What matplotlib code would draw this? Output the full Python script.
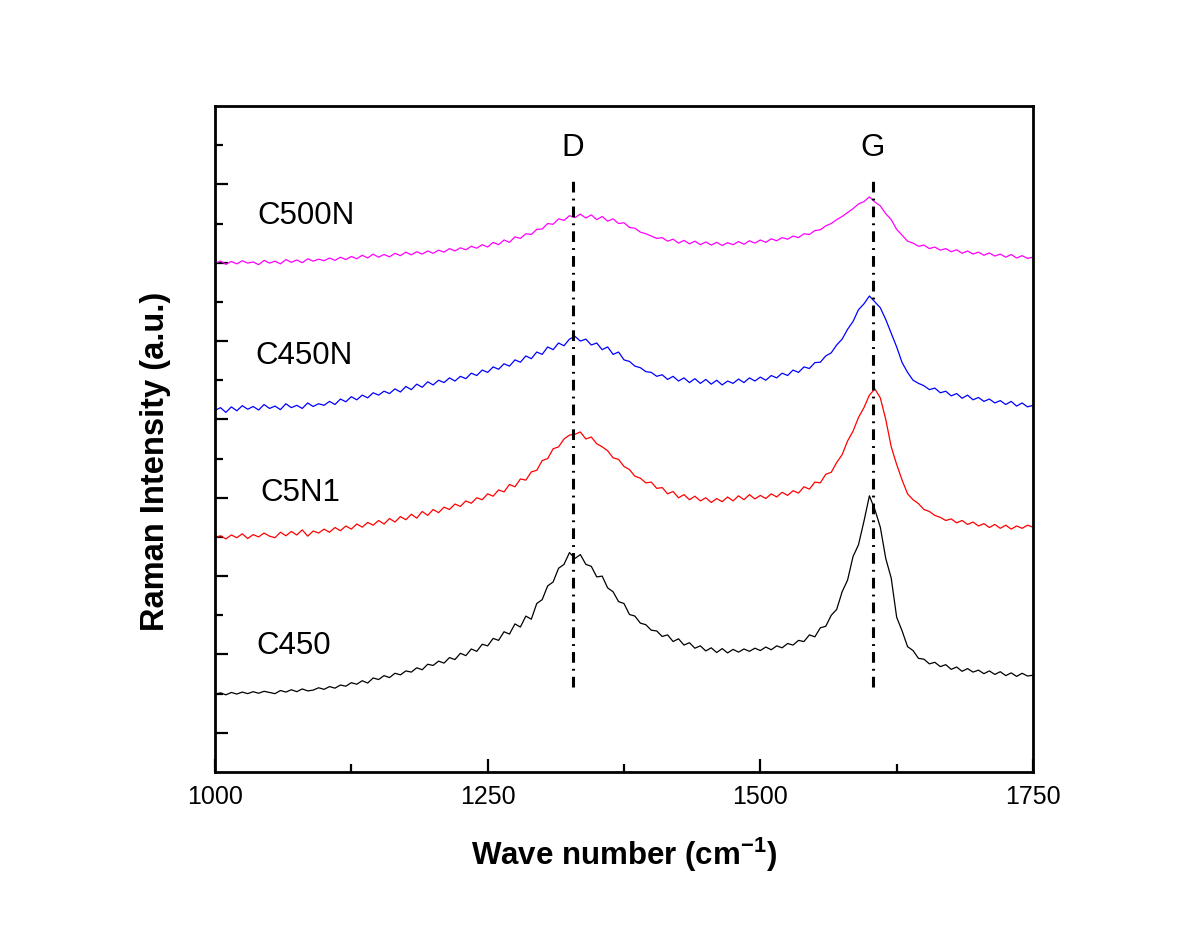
import matplotlib
matplotlib.use("Agg")
import matplotlib.pyplot as plt
import numpy as np

plt.rcParams['font.family'] = ['Liberation Sans', 'DejaVu Sans']

# ---------------- data ----------------
wavenumber = list(range(1000, 1751, 5))

c450 = [1.98,2.02,1.97,2.03,1.99,2.04,2.00,2.05,2.01,2.06,2.03,2.00,2.08,2.04,2.10,2.05,2.12,2.07,2.09,2.15,
        2.11,2.18,2.14,2.22,2.19,2.28,2.24,2.33,2.27,2.40,2.36,2.46,2.41,2.52,2.48,2.58,2.55,2.66,2.61,2.75,
        2.72,2.83,2.78,2.92,2.87,3.03,2.97,3.14,3.08,3.26,3.22,3.41,3.36,3.58,3.52,3.78,3.70,3.98,3.90,4.30,
        4.40,4.75,4.85,5.20,5.30,5.60,5.45,5.55,5.30,5.25,4.98,5.00,4.70,4.60,4.35,4.30,4.02,3.98,3.80,3.76,
        3.62,3.60,3.46,3.50,3.33,3.40,3.24,3.30,3.16,3.22,3.09,3.17,3.05,3.15,3.04,3.13,3.06,3.14,3.08,3.16,
        3.10,3.19,3.12,3.22,3.17,3.28,3.24,3.36,3.33,3.50,3.45,3.68,3.72,4.00,4.15,4.60,4.90,5.50,5.80,6.40,
        7.05,6.70,6.25,5.45,4.95,3.95,3.60,3.20,3.10,2.90,2.88,2.76,2.80,2.69,2.74,2.62,2.68,2.57,2.64,2.55,
        2.60,2.51,2.58,2.49,2.56,2.46,2.53,2.44,2.52,2.45,2.47]

c5n1 = [5.97,6.03,5.95,6.05,5.98,6.08,5.96,6.06,6.00,6.10,6.02,5.98,6.12,6.03,6.14,6.05,6.18,6.02,6.15,6.10,
        6.20,6.12,6.24,6.16,6.28,6.20,6.33,6.25,6.37,6.30,6.42,6.33,6.47,6.38,6.52,6.44,6.58,6.48,6.65,6.55,
        6.70,6.62,6.76,6.70,6.84,6.78,6.92,6.86,7.00,6.95,7.10,7.04,7.20,7.15,7.34,7.28,7.48,7.45,7.66,7.70,
        7.95,8.00,8.25,8.30,8.50,8.60,8.62,8.68,8.50,8.55,8.38,8.30,8.20,8.02,7.98,7.80,7.72,7.55,7.50,7.38,
        7.40,7.24,7.26,7.10,7.16,7.00,7.08,6.95,7.04,6.92,7.00,6.88,6.98,6.90,7.02,6.92,7.05,6.95,7.08,6.97,
        7.06,6.98,7.10,7.02,7.14,7.06,7.18,7.12,7.28,7.22,7.40,7.38,7.60,7.65,7.90,8.10,8.45,8.70,9.05,9.30,
        9.62,9.78,9.55,9.00,8.30,7.85,7.45,7.10,6.95,6.85,6.70,6.65,6.55,6.50,6.42,6.46,6.36,6.42,6.32,6.38,
        6.28,6.34,6.24,6.32,6.22,6.30,6.20,6.28,6.22,6.30,6.25]

c450n = [9.23,9.30,9.18,9.32,9.22,9.35,9.26,9.33,9.24,9.38,9.28,9.34,9.25,9.40,9.30,9.36,9.28,9.42,9.33,9.40,
         9.36,9.46,9.38,9.52,9.45,9.58,9.50,9.62,9.55,9.68,9.62,9.72,9.66,9.78,9.70,9.84,9.76,9.90,9.82,9.96,
         9.88,10.00,9.94,10.06,9.98,10.10,10.04,10.18,10.12,10.26,10.20,10.34,10.28,10.42,10.36,10.52,10.46,10.62,10.55,10.72,
         10.66,10.85,10.78,10.95,10.88,11.05,11.12,11.00,11.05,10.90,10.95,10.78,10.85,10.66,10.72,10.52,10.48,10.36,10.32,10.22,
         10.20,10.10,10.14,10.02,10.10,9.98,10.06,9.94,10.04,9.92,10.02,9.90,10.00,9.88,9.98,9.92,10.03,9.94,10.06,9.98,
         10.08,10.00,10.12,10.06,10.18,10.12,10.26,10.20,10.34,10.30,10.45,10.46,10.62,10.70,10.90,11.05,11.30,11.50,11.80,11.95,
         12.15,12.00,11.85,11.55,11.20,10.85,10.45,10.20,10.00,9.92,9.86,9.76,9.80,9.68,9.72,9.60,9.66,9.54,9.62,9.50,
         9.56,9.46,9.52,9.42,9.48,9.38,9.46,9.34,9.42,9.32,9.36]

c500n = [12.98,13.04,12.96,13.03,12.97,13.05,12.99,13.02,12.95,13.06,12.99,13.04,12.97,13.08,13.01,13.07,13.00,13.10,13.04,13.09,
         13.05,13.12,13.06,13.14,13.08,13.16,13.10,13.19,13.12,13.22,13.14,13.21,13.15,13.24,13.18,13.27,13.20,13.28,13.22,13.30,
         13.24,13.32,13.27,13.36,13.30,13.38,13.33,13.42,13.37,13.46,13.40,13.52,13.46,13.58,13.52,13.66,13.62,13.74,13.72,13.85,
         13.86,14.00,13.98,14.12,14.08,14.20,14.15,14.24,14.14,14.22,14.10,14.18,14.06,14.12,14.00,14.02,13.90,13.88,13.78,13.74,
         13.68,13.62,13.64,13.55,13.60,13.50,13.57,13.48,13.55,13.46,13.53,13.45,13.52,13.44,13.51,13.46,13.54,13.47,13.56,13.50,
         13.58,13.52,13.61,13.56,13.64,13.60,13.68,13.64,13.74,13.72,13.82,13.84,13.94,14.00,14.10,14.18,14.28,14.38,14.50,14.56,
         14.68,14.55,14.45,14.25,14.10,13.85,13.70,13.55,13.50,13.42,13.45,13.36,13.40,13.32,13.36,13.28,13.33,13.24,13.30,13.22,
         13.27,13.19,13.25,13.17,13.22,13.14,13.21,13.12,13.18,13.11,13.14]

series_names = ["C450", "C5N1", "C450N", "C500N"]
series_colors = ["#000000", "#ff0000", "#0000ff", "#ff00ff"]
peak_names = ["D", "G"]
peak_positions = [1328, 1603]
peak_line_span = [2.17, 15.1]

x_ticks = [1000, 1250, 1500, 1750]
x_minor = [1125, 1375, 1625]

# ---------------- figure ----------------
fig = plt.figure(figsize=(12, 9.27), dpi=100)
ax = fig.add_axes([215/1200, 1 - 772/927, 818/1200, 666/927])

for vals, col in zip([c450, c5n1, c450n, c500n], series_colors):
    ax.plot(wavenumber, vals, color=col, lw=0.9)

for pos in peak_positions:
    ax.plot([pos, pos], peak_line_span, color='black', lw=2.2,
            linestyle=(0, (3.5, 2.0, 0.6, 2.0)), solid_capstyle='butt', dash_capstyle='butt')

# peak labels
for name, pos in zip(peak_names, peak_positions):
    ax.text(pos, 15.93, name, ha='center', va='center', fontsize=22.5)

# series labels
label_pos = [(1038, 3.21), (1042, 7.12), (1037, 10.62), (1038.5, 14.18)]
for name, (lx, ly) in zip(series_names, label_pos):
    ax.text(lx, ly, name, ha='left', va='center', fontsize=22.5)

ax.set_xlim(1000, 1750)
ax.set_ylim(0, 17)
ax.set_xticks(x_ticks)
ax.set_xticks(x_minor, minor=True)
ax.set_yticks(list(range(1, 16, 2)))
ax.set_yticks(list(range(2, 17, 2)), minor=True)
ax.set_yticklabels([])

ax.tick_params(axis='both', which='major', direction='in', length=9.5, width=1.6,
               top=False, right=False)
ax.tick_params(axis='both', which='minor', direction='in', length=5.5, width=1.6,
               top=False, right=False)
ax.tick_params(axis='x', which='major', labelsize=18, pad=9)

for sp in ax.spines.values():
    sp.set_linewidth(2.0)

ax.set_xlabel("Wave number (cm$^{\\mathregular{-1}}$)", fontsize=22.5, fontweight='bold', va='center')
ax.xaxis.set_label_coords(0.5, -0.125)
ax.set_ylabel("Raman Intensity (a.u.)", fontsize=23.5, fontweight='bold', va='center')
ax.yaxis.set_label_coords(-0.073, 0.466)

fig.savefig("out.png", dpi=100)
